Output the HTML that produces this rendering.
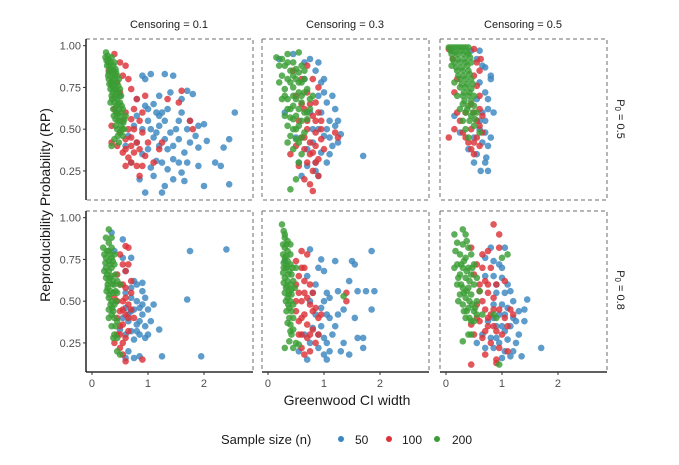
<!DOCTYPE html>
<html><head><meta charset="utf-8"><style>
html,body{margin:0;padding:0;background:#fff;}
svg{display:block;font-family:"Liberation Sans",sans-serif;}
</style></head><body>
<svg id="chart" width="679" height="465" viewBox="0 0 679 465">
<g id="panels"></g>
<g id="labels">
<text x="169" y="28" font-size="11" text-anchor="middle" fill="#1a1a1a">Censoring = 0.1</text>
<text x="345" y="28" font-size="11" text-anchor="middle" fill="#1a1a1a">Censoring = 0.3</text>
<text x="523" y="28" font-size="11" text-anchor="middle" fill="#1a1a1a">Censoring = 0.5</text>
<text transform="translate(617,119) rotate(90)" font-size="11" text-anchor="middle" fill="#1a1a1a">P<tspan font-size="8" dy="2">0</tspan><tspan dy="-2"> = 0.5</tspan></text>
<text transform="translate(617,290) rotate(90)" font-size="11" text-anchor="middle" fill="#1a1a1a">P<tspan font-size="8" dy="2">0</tspan><tspan dy="-2"> = 0.8</tspan></text>
<text transform="translate(50,205) rotate(-90)" font-size="14" text-anchor="middle" fill="#1a1a1a">Reproducibility Probability (RP)</text>
<text x="347" y="405" font-size="14" text-anchor="middle" fill="#1a1a1a">Greenwood CI width</text>
</g>
<g id="legend">
<text x="221" y="444" font-size="13" fill="#1a1a1a">Sample size (n)</text>
<circle cx="341" cy="439" r="3" fill="#3a86c0"/>
<text x="355" y="444" font-size="12" fill="#1a1a1a">50</text>
<circle cx="389" cy="439" r="3" fill="#dc3238"/>
<text x="402" y="444" font-size="12" fill="#1a1a1a">100</text>
<circle cx="437" cy="439" r="3" fill="#3a9e35"/>
<text x="452" y="444" font-size="12" fill="#1a1a1a">200</text>
</g>
</svg>
<script>
const xTicks=[0,1,2];
const yTicks=[0.25,0.50,0.75,1.00];
const yTickLabels=["0.25","0.50","0.75","1.00"];
const censoring=["0.1","0.3","0.5"];
const p0=["0.5","0.8"];
const blueA=[[0.9,0.82],[0.95,0.8],[1.05,0.83],[1.3,0.83],[1.45,0.82],[1.7,0.73],[1.8,0.71],[0.5,0.7],[0.8,0.68],[1.2,0.7],[1.4,0.72],[1.6,0.68],[1.0,0.62],[1.15,0.6],[1.2,0.58],[1.25,0.6],[1.35,0.62],[1.55,0.55],[1.75,0.55],[1.9,0.52],[2.0,0.53],[2.55,0.6],[0.75,0.52],[0.9,0.5],[1.05,0.5],[1.2,0.52],[1.4,0.48],[1.5,0.5],[1.7,0.5],[1.85,0.46],[2.45,0.44],[2.35,0.39],[0.6,0.4],[0.8,0.42],[1.0,0.38],[1.2,0.4],[1.35,0.38],[1.55,0.44],[1.65,0.36],[1.9,0.39],[1.15,0.31],[1.25,0.3],[1.05,0.27],[1.35,0.26],[1.55,0.3],[1.9,0.28],[2.2,0.3],[2.3,0.28],[0.85,0.2],[1.3,0.16],[1.45,0.2],[1.65,0.19],[2.0,0.16],[2.45,0.17],[0.95,0.12],[1.25,0.12],[0.7,0.3],[0.65,0.46],[0.95,0.64],[1.1,0.45],[1.3,0.44],[1.45,0.4],[2.05,0.43],[1.75,0.42],[0.8,0.58],[1.1,0.65],[1.3,0.55],[1.6,0.6],[1.0,0.55],[1.15,0.48],[1.45,0.32],[1.7,0.3],[0.9,0.35],[1.6,0.24],[1.1,0.22]];
const redA=[[0.4,0.95],[0.5,0.9],[0.3,0.85],[0.6,0.88],[0.55,0.82],[0.45,0.78],[0.65,0.8],[0.5,0.72],[0.7,0.74],[0.8,0.68],[0.95,0.7],[1.6,0.73],[1.35,0.68],[1.55,0.66],[0.9,0.6],[0.6,0.6],[0.7,0.56],[0.35,0.52],[0.5,0.48],[0.6,0.44],[0.7,0.45],[0.8,0.42],[0.9,0.48],[0.85,0.38],[0.75,0.36],[0.65,0.33],[0.7,0.3],[0.8,0.28],[0.45,0.4],[0.35,0.42],[0.55,0.36],[1.0,0.42],[1.25,0.42],[0.95,0.34],[1.8,0.5],[1.75,0.55],[1.2,0.38],[0.85,0.22],[0.6,0.28],[0.75,0.5],[0.45,0.6],[0.55,0.55],[0.65,0.5],[0.4,0.62],[0.75,0.62],[0.85,0.55],[0.6,0.38],[0.7,0.4],[0.9,0.28],[1.1,0.3]];
const greenA=[[0.25,0.96],[0.28,0.94],[0.3,0.92],[0.33,0.9],[0.35,0.93],[0.38,0.88],[0.4,0.9],[0.27,0.88],[0.32,0.86],[0.36,0.84],[0.42,0.86],[0.45,0.82],[0.3,0.8],[0.34,0.78],[0.38,0.8],[0.44,0.78],[0.48,0.8],[0.33,0.74],[0.37,0.72],[0.42,0.74],[0.46,0.72],[0.5,0.74],[0.36,0.68],[0.4,0.66],[0.45,0.68],[0.5,0.66],[0.38,0.62],[0.43,0.6],[0.48,0.62],[0.52,0.6],[0.42,0.56],[0.47,0.55],[0.52,0.52],[0.56,0.54],[0.45,0.5],[0.5,0.48],[0.55,0.46],[0.4,0.44],[0.48,0.42],[0.35,0.4],[0.3,0.84],[0.26,0.91],[0.4,0.76],[0.44,0.64],[0.35,0.76],[0.29,0.82],[0.41,0.82],[0.52,0.7],[0.58,0.56],[0.5,0.58],[0.55,0.62],[0.24,0.93],[0.29,0.9],[0.31,0.88],[0.34,0.86],[0.37,0.83],[0.39,0.85],[0.43,0.84],[0.31,0.77],[0.36,0.79],[0.39,0.74],[0.43,0.71],[0.47,0.76],[0.35,0.7],[0.41,0.69],[0.47,0.65],[0.53,0.64],[0.39,0.58],[0.45,0.59],[0.5,0.55],[0.54,0.5],[0.46,0.46],[0.42,0.52],[0.57,0.5],[0.6,0.58],[0.33,0.66]];
const blueB=[[0.2,0.92],[0.45,0.95],[0.75,0.92],[0.85,0.85],[0.95,0.78],[1.0,0.8],[0.9,0.7],[1.05,0.66],[1.2,0.62],[1.25,0.55],[1.1,0.55],[0.3,0.6],[0.9,0.5],[1.05,0.5],[1.3,0.47],[1.25,0.42],[1.15,0.4],[0.8,0.42],[0.7,0.38],[0.95,0.36],[1.05,0.3],[0.85,0.3],[1.7,0.34],[0.7,0.28],[0.55,0.3],[0.6,0.22],[0.9,0.22],[1.0,0.46],[0.5,0.45],[0.75,0.6],[1.15,0.7],[0.65,0.8],[0.95,0.6],[1.1,0.45],[0.8,0.5],[1.2,0.52],[0.65,0.9],[0.9,0.9],[1.0,0.72],[0.85,0.25],[1.1,0.35]];
const redB=[[0.45,0.85],[0.6,0.8],[0.8,0.8],[0.7,0.72],[0.85,0.66],[0.65,0.62],[0.8,0.58],[0.9,0.6],[0.55,0.55],[0.7,0.5],[0.85,0.48],[0.95,0.44],[0.6,0.45],[0.75,0.42],[0.5,0.4],[0.65,0.38],[0.8,0.36],[0.9,0.32],[0.7,0.3],[0.55,0.28],[0.8,0.25],[0.9,0.22],[0.65,0.2],[0.75,0.17],[0.8,0.13],[1.25,0.45],[1.2,0.48],[0.4,0.35],[0.85,0.4],[0.6,0.65],[0.5,0.7],[0.95,0.55],[0.7,0.55],[0.85,0.55],[0.95,0.5],[0.75,0.35],[0.65,0.45],[0.85,0.3],[1.0,0.38],[0.75,0.65],[0.7,0.88],[0.9,0.75]];
const greenB=[[0.15,0.93],[0.25,0.92],[0.35,0.95],[0.55,0.96],[0.3,0.88],[0.45,0.9],[0.6,0.88],[0.4,0.85],[0.55,0.84],[0.65,0.85],[0.2,0.78],[0.35,0.8],[0.5,0.8],[0.6,0.78],[0.3,0.74],[0.45,0.75],[0.55,0.72],[0.7,0.74],[0.35,0.68],[0.5,0.68],[0.6,0.66],[0.75,0.68],[0.4,0.62],[0.55,0.62],[0.65,0.6],[0.3,0.58],[0.45,0.56],[0.6,0.55],[0.35,0.52],[0.5,0.5],[0.65,0.48],[0.4,0.46],[0.55,0.42],[0.45,0.38],[0.6,0.35],[0.55,0.3],[0.35,0.42],[0.7,0.56],[0.5,0.2],[0.4,0.14],[0.75,0.62],[0.25,0.68],[0.65,0.72],[0.45,0.7],[0.2,0.88],[0.35,0.9],[0.5,0.86],[0.25,0.82],[0.4,0.78],[0.55,0.78],[0.3,0.7],[0.45,0.64],[0.6,0.7],[0.4,0.57],[0.5,0.58],[0.55,0.52],[0.45,0.5],[0.6,0.45],[0.5,0.44],[0.7,0.6],[0.8,0.7],[0.35,0.62],[0.65,0.8],[0.45,0.82]];
const blueC=[[0.1,0.97],[0.45,0.97],[0.6,0.97],[0.55,0.92],[0.7,0.87],[0.8,0.82],[0.8,0.8],[0.6,0.78],[0.7,0.72],[0.55,0.68],[0.75,0.62],[0.85,0.6],[0.15,0.58],[0.6,0.5],[0.7,0.55],[0.7,0.48],[0.65,0.42],[0.5,0.45],[0.75,0.4],[0.25,0.48],[0.55,0.35],[0.7,0.3],[0.4,0.38],[0.72,0.33],[0.65,0.6],[0.75,0.68],[0.6,0.55],[0.8,0.45],[0.5,0.3],[0.62,0.25],[0.75,0.25],[0.65,0.88]];
const redC=[[0.05,0.98],[0.12,0.92],[0.5,0.98],[0.55,0.9],[0.6,0.85],[0.5,0.82],[0.55,0.76],[0.6,0.7],[0.15,0.72],[0.2,0.6],[0.5,0.6],[0.55,0.55],[0.45,0.5],[0.6,0.52],[0.3,0.48],[0.35,0.45],[0.4,0.42],[0.5,0.42],[0.6,0.4],[0.05,0.45],[0.15,0.5],[0.45,0.38],[0.65,0.58],[0.2,0.8],[0.35,0.6],[0.45,0.65],[0.6,0.62],[0.25,0.55],[0.5,0.35],[0.55,0.45],[0.65,0.48],[0.62,0.92]];
const greenC=[[0.05,0.99],[0.1,0.99],[0.15,0.99],[0.2,0.99],[0.25,0.99],[0.3,0.99],[0.35,0.99],[0.4,0.99],[0.1,0.95],[0.2,0.95],[0.3,0.95],[0.4,0.95],[0.15,0.9],[0.25,0.9],[0.35,0.9],[0.45,0.9],[0.2,0.85],[0.3,0.85],[0.4,0.85],[0.25,0.8],[0.35,0.8],[0.45,0.8],[0.25,0.75],[0.35,0.75],[0.45,0.74],[0.3,0.7],[0.4,0.7],[0.5,0.7],[0.3,0.65],[0.4,0.64],[0.5,0.64],[0.35,0.6],[0.45,0.58],[0.55,0.6],[0.25,0.62],[0.3,0.55],[0.5,0.52],[0.6,0.48],[0.4,0.45],[0.2,0.7],[0.15,0.78],[0.1,0.88],[0.08,0.97],[0.17,0.96],[0.27,0.97],[0.37,0.96],[0.12,0.92],[0.22,0.92],[0.33,0.92],[0.43,0.93],[0.18,0.87],[0.28,0.87],[0.38,0.88],[0.22,0.82],[0.32,0.82],[0.42,0.83],[0.28,0.77],[0.38,0.77],[0.48,0.77],[0.32,0.72],[0.42,0.72],[0.33,0.67],[0.45,0.67],[0.38,0.62],[0.48,0.6],[0.42,0.55],[0.35,0.5],[0.52,0.56]];
const blueD=[[0.35,0.91],[0.55,0.87],[0.4,0.8],[0.55,0.76],[0.7,0.76],[0.6,0.68],[0.75,0.62],[0.8,0.6],[0.9,0.61],[0.6,0.55],[0.7,0.52],[0.8,0.5],[0.95,0.52],[0.6,0.46],[0.7,0.44],[0.85,0.46],[1.0,0.45],[1.1,0.48],[0.9,0.42],[0.65,0.38],[0.8,0.36],[0.95,0.35],[1.05,0.38],[0.7,0.32],[0.85,0.3],[0.95,0.28],[0.6,0.3],[0.75,0.27],[0.5,0.33],[0.85,0.17],[0.75,0.16],[0.6,0.16],[1.25,0.17],[1.95,0.17],[1.7,0.51],[1.75,0.8],[2.4,0.81],[0.65,0.2],[1.2,0.33],[0.9,0.56],[0.75,0.45],[0.85,0.38],[0.65,0.42],[0.8,0.32],[1.0,0.3],[0.7,0.58],[0.9,0.48],[0.55,0.4]];
const redD=[[0.6,0.83],[0.65,0.82],[0.5,0.78],[0.55,0.72],[0.6,0.68],[0.45,0.66],[0.5,0.6],[0.6,0.58],[0.55,0.5],[0.65,0.48],[0.7,0.45],[0.5,0.44],[0.6,0.42],[0.45,0.4],[0.55,0.36],[0.65,0.32],[0.5,0.3],[0.6,0.28],[0.4,0.25],[0.5,0.22],[0.55,0.18],[0.6,0.14],[0.9,0.15],[0.7,0.55],[0.75,0.4],[0.4,0.52],[0.45,0.5],[0.55,0.45],[0.6,0.52],[0.65,0.4],[0.5,0.35],[0.55,0.25],[0.45,0.3],[0.7,0.62],[0.55,0.6],[0.65,0.72]];
const greenD=[[0.3,0.93],[0.25,0.88],[0.3,0.85],[0.35,0.88],[0.2,0.82],[0.3,0.8],[0.35,0.82],[0.25,0.76],[0.3,0.74],[0.35,0.76],[0.4,0.78],[0.25,0.7],[0.3,0.68],[0.35,0.7],[0.4,0.72],[0.25,0.64],[0.3,0.62],[0.35,0.65],[0.4,0.6],[0.45,0.62],[0.28,0.58],[0.33,0.56],[0.38,0.55],[0.3,0.52],[0.35,0.5],[0.4,0.48],[0.3,0.45],[0.35,0.42],[0.4,0.4],[0.45,0.38],[0.35,0.35],[0.4,0.3],[0.45,0.28],[0.5,0.18],[0.45,0.55],[0.5,0.6],[0.42,0.66],[0.28,0.6],[0.33,0.78],[0.38,0.62],[0.22,0.78],[0.27,0.8],[0.32,0.72],[0.37,0.74],[0.22,0.68],[0.27,0.66],[0.32,0.64],[0.37,0.6],[0.42,0.56],[0.26,0.56],[0.31,0.54],[0.36,0.46],[0.33,0.48],[0.38,0.44],[0.43,0.5],[0.3,0.4],[0.42,0.35],[0.38,0.28],[0.45,0.2],[0.24,0.73]];
const blueE=[[0.3,0.74],[0.75,0.81],[0.95,0.75],[0.9,0.7],[1.0,0.68],[1.2,0.74],[1.5,0.74],[1.55,0.72],[1.85,0.8],[0.7,0.65],[0.85,0.6],[1.05,0.55],[1.1,0.52],[1.25,0.56],[1.45,0.62],[1.6,0.56],[1.75,0.56],[1.9,0.56],[1.85,0.45],[0.75,0.5],[0.95,0.46],[1.05,0.42],[1.1,0.4],[1.2,0.35],[1.35,0.45],[1.55,0.4],[0.8,0.34],[0.9,0.3],[1.0,0.28],[0.75,0.25],[0.9,0.22],[1.0,0.18],[1.05,0.15],[0.7,0.15],[1.1,0.2],[1.3,0.2],[1.45,0.18],[1.7,0.22],[1.6,0.28],[1.7,0.28],[0.55,0.2],[1.35,0.25],[0.8,0.55],[1.0,0.5],[0.85,0.42],[1.25,0.42],[0.95,0.35],[1.15,0.3],[1.05,0.25],[0.65,0.3]];
const redE=[[0.6,0.8],[0.7,0.78],[0.5,0.74],[0.6,0.7],[0.55,0.65],[0.65,0.62],[0.75,0.6],[0.55,0.55],[0.7,0.52],[0.6,0.5],[0.75,0.48],[0.85,0.46],[0.5,0.44],[0.65,0.42],[0.8,0.44],[0.95,0.42],[0.55,0.38],[0.7,0.36],[0.8,0.33],[0.6,0.3],[0.7,0.28],[0.85,0.25],[0.6,0.22],[0.75,0.2],[0.65,0.18],[1.4,0.55],[1.4,0.5],[0.5,0.6],[0.5,0.5],[0.65,0.55],[0.8,0.55],[0.9,0.4],[0.6,0.4],[0.75,0.3],[0.9,0.3],[0.55,0.3],[0.65,0.7]];
const greenE=[[0.25,0.96],[0.28,0.92],[0.3,0.88],[0.35,0.86],[0.4,0.84],[0.3,0.82],[0.35,0.8],[0.4,0.78],[0.3,0.76],[0.35,0.74],[0.4,0.72],[0.32,0.7],[0.38,0.68],[0.42,0.66],[0.3,0.64],[0.35,0.62],[0.4,0.6],[0.45,0.62],[0.32,0.58],[0.38,0.56],[0.42,0.54],[0.35,0.52],[0.4,0.5],[0.45,0.48],[0.38,0.46],[0.42,0.44],[0.45,0.4],[0.4,0.36],[0.45,0.33],[0.42,0.3],[0.5,0.25],[0.45,0.22],[0.55,0.24],[0.3,0.22],[1.35,0.53],[0.48,0.58],[0.28,0.7],[0.5,0.7],[0.27,0.84],[0.33,0.84],[0.27,0.78],[0.33,0.77],[0.28,0.73],[0.34,0.71],[0.27,0.67],[0.36,0.66],[0.28,0.61],[0.34,0.59],[0.3,0.55],[0.37,0.54],[0.32,0.5],[0.36,0.48],[0.33,0.44],[0.38,0.4],[0.35,0.37],[0.4,0.32],[0.38,0.26],[0.42,0.57],[0.44,0.7],[0.3,0.9]];
const blueF=[[0.8,0.82],[1.05,0.82],[0.7,0.76],[0.85,0.74],[0.95,0.72],[1.0,0.7],[0.7,0.65],[0.85,0.65],[1.0,0.64],[1.1,0.6],[0.9,0.55],[1.05,0.55],[1.15,0.56],[1.45,0.51],[0.85,0.48],[1.0,0.48],[1.1,0.46],[1.3,0.44],[1.4,0.45],[0.95,0.42],[1.2,0.4],[1.25,0.38],[1.4,0.38],[0.75,0.38],[0.9,0.35],[1.05,0.32],[1.3,0.3],[0.65,0.3],[0.8,0.28],[0.95,0.25],[1.1,0.27],[0.55,0.25],[0.7,0.22],[0.85,0.22],[1.05,0.2],[1.2,0.2],[1.35,0.17],[1.7,0.22],[1.0,0.16],[1.15,0.17],[0.9,0.6],[1.05,0.42],[1.15,0.35],[0.85,0.4],[1.0,0.35],[1.2,0.5],[0.9,0.28],[1.25,0.25]];
const redF=[[0.85,0.96],[0.95,0.9],[0.45,0.82],[0.65,0.78],[0.75,0.8],[0.95,0.82],[0.55,0.72],[0.65,0.7],[0.8,0.7],[0.5,0.66],[0.7,0.62],[0.9,0.6],[1.05,0.62],[0.6,0.56],[0.75,0.55],[0.85,0.52],[0.55,0.48],[0.7,0.45],[0.8,0.42],[0.95,0.45],[1.05,0.4],[1.15,0.45],[0.6,0.38],[0.75,0.35],[0.9,0.32],[1.0,0.3],[0.5,0.3],[0.65,0.28],[0.8,0.25],[0.95,0.22],[1.1,0.2],[0.7,0.18],[0.9,0.15],[0.45,0.12],[0.9,0.13],[1.2,0.42],[0.45,0.36],[0.65,0.5],[0.75,0.6],[0.85,0.45],[0.55,0.4],[0.7,0.32],[0.85,0.35],[0.75,0.4],[0.6,0.6],[1.1,0.35]];
const greenF=[[0.15,0.9],[0.3,0.93],[0.35,0.9],[0.2,0.85],[0.3,0.84],[0.4,0.82],[0.25,0.78],[0.35,0.76],[0.45,0.78],[0.2,0.72],[0.3,0.7],[0.4,0.7],[0.5,0.72],[0.25,0.66],[0.35,0.64],[0.45,0.66],[0.55,0.64],[0.2,0.6],[0.3,0.58],[0.4,0.58],[0.5,0.6],[0.25,0.54],[0.35,0.52],[0.45,0.54],[0.55,0.5],[0.3,0.48],[0.4,0.46],[0.5,0.44],[0.35,0.4],[0.45,0.38],[0.55,0.42],[0.4,0.3],[0.3,0.26],[0.65,0.42],[0.85,0.42],[0.9,0.4],[1.1,0.78],[1.0,0.76],[0.95,0.12],[0.6,0.56],[0.15,0.7],[0.17,0.8],[0.27,0.72],[0.32,0.74],[0.37,0.68],[0.42,0.62],[0.22,0.64],[0.27,0.6],[0.32,0.55],[0.37,0.56],[0.42,0.5],[0.47,0.48],[0.52,0.46],[0.37,0.44],[0.42,0.4],[0.5,0.38],[0.22,0.5],[0.32,0.44],[0.45,0.3],[0.47,0.7],[0.37,0.86]];

const NS="http://www.w3.org/2000/svg";
const colLeft=[86,262,440], panelW=167, rowTop=[39,211], panelH=161;
const xMin=-0.107, xPer=56, yMax=1.04, yPer=167;
function xScale(col,v){return colLeft[col]+(v-xMin)*xPer;}
function yScale(row,v){return rowTop[row]+(yMax-v)*yPer;}
const panelData=[[[blueA,redA,greenA],[blueB,redB,greenB],[blueC,redC,greenC]],[[blueD,redD,greenD],[blueE,redE,greenE],[blueF,redF,greenF]]];
const colors=["#3a86c0","#dc3238","#3a9e35"];
const seriesNames=["n50","n100","n200"];
const root=document.getElementById('panels');
function mk(tag,attrs,parent){const e=document.createElementNS(NS,tag);for(const k in attrs)e.setAttribute(k,attrs[k]);parent.appendChild(e);return e;}
for(let r=0;r<2;r++)for(let c=0;c<3;c++){
  const g=mk('g',{},root);
  
  
  const L=colLeft[c],T=rowTop[r],R=L+panelW,B=T+panelH;
  const dash={stroke:'#6e6e6e','stroke-width':1,'stroke-dasharray':'4,3',fill:'none'};
  const border=mk('path',Object.assign({d:`M${L},${T}H${R}V${B}`+(r==0?`H${L}`:'')+(c>0?`M${L},${T}V${B}`:'')},dash),g);
  
  
  for(let s=0;s<3;s++){
    const sg=mk('g',{fill:colors[s],'fill-opacity':0.82},g);
    
    
    panelData[r][c][s].forEach(p=>{
      const pt=mk('circle',{cx:xScale(c,p[0]).toFixed(1),cy:yScale(r,p[1]).toFixed(1),r:3.3},sg);
      
      
    });
  }
  if(c==0){
    const ax=mk('line',{x1:L,y1:T,x2:L,y2:B,stroke:'#000','stroke-width':1.3},g);
    
    
    yTicks.forEach((t,i)=>{
      const y=yScale(r,t);
      mk('line',{x1:L-3,y1:y,x2:L,y2:y,stroke:'#333'},g);
      const tx=mk('text',{x:L-5,y:y+4,'font-size':11,'text-anchor':'end',fill:'#4d4d4d'},g);
      tx.textContent=yTickLabels[i];
      
      
    });
  }
  if(r==1){
    const ax=mk('line',{x1:L,y1:B,x2:R,y2:B,stroke:'#000','stroke-width':1.3},g);
    
    
    xTicks.forEach(t=>{
      const x=xScale(c,t);
      mk('line',{x1:x,y1:B,x2:x,y2:B+3,stroke:'#333'},g);
      const tx=mk('text',{x:x,y:B+15,'font-size':11,'text-anchor':'middle',fill:'#4d4d4d'},g);
      tx.textContent=String(t);
      
      
    });
  }
}
</script>
</body></html>
